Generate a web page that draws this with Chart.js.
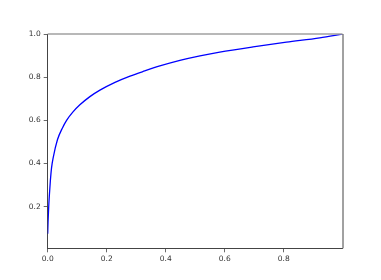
<!DOCTYPE html>
<html>
<head>
<meta charset="utf-8">
<script src="https://cdn.jsdelivr.net/npm/chart.js@4"></script>
<style>
  html, body { margin: 0; padding: 0; background: #fff; }
  canvas { display: block; }
</style>
</head>
<body>
<canvas id="chartCanvas" width="381" height="280"></canvas>
<script>
// values
const xValues = [0, 0.0012, 0.0034, 0.0055, 0.009, 0.013, 0.019, 0.033, 0.05, 0.064, 0.085, 0.109, 0.143, 0.177, 0.228, 0.279, 0.329, 0.380, 0.448, 0.516, 0.583, 0.696, 0.809, 0.922, 0.999];
const yValues = [0.075, 0.13, 0.2, 0.25, 0.32, 0.38, 0.43, 0.51, 0.565, 0.6, 0.638, 0.672, 0.71, 0.74, 0.776, 0.805, 0.829, 0.852, 0.878, 0.899, 0.916, 0.940, 0.962, 0.982, 1.0];
const xTicks = [0, 0.2, 0.4, 0.6, 0.8];
const yTicks = [0.2, 0.4, 0.6, 0.8, 1.0];

const points = xValues.map((x, i) => ({ x: x, y: yValues[i] }));

// top and right spines
const frame = {
  id: "frame",
  afterDatasetsDraw(chart) {
    const { ctx, chartArea: a } = chart;
    ctx.save();
    ctx.strokeStyle = "#a0a0a0";
    ctx.lineWidth = 1.5;
    ctx.beginPath();
    ctx.moveTo(a.left, a.top);
    ctx.lineTo(a.right, a.top);
    ctx.stroke();
    ctx.strokeStyle = "#444";
    ctx.lineWidth = 1;
    ctx.beginPath();
    ctx.moveTo(a.right + 0.5, a.top);
    ctx.lineTo(a.right + 0.5, a.bottom);
    ctx.stroke();
    ctx.restore();
  }
};

const tickFont = { family: "DejaVu Sans", size: 7.5 };

new Chart(document.getElementById("chartCanvas").getContext("2d"), {
  type: "line",
  data: {
    datasets: [{
      data: points,
      borderColor: "#0000ff",
      borderWidth: 1.3,
      pointRadius: 0,
      fill: false,
      cubicInterpolationMode: "monotone"
    }]
  },
  options: {
    responsive: false,
    animation: false,
    layout: { padding: { top: 34, right: 38.5, left: 0, bottom: 0 } },
    plugins: { legend: { display: false }, tooltip: { enabled: false } },
    scales: {
      x: {
        type: "linear",
        min: 0,
        max: 0.999,
        afterFit: (s) => { s.height = 31.7; },
        afterBuildTicks: (s) => { s.ticks = xTicks.map(v => ({ value: v })); },
        grid: { drawOnChartArea: false, drawTicks: true, tickLength: 4, tickColor: "#444", lineWidth: 0.8 },
        border: { display: true, color: "#444", width: 1 },
        ticks: { font: tickFont, color: "#333", padding: 2, maxRotation: 0, callback: v => v.toFixed(1) }
      },
      y: {
        type: "linear",
        min: 0.0074,
        max: 1.0,
        afterFit: (s) => { s.width = 47.7; },
        afterBuildTicks: (s) => { s.ticks = yTicks.map(v => ({ value: v })); },
        grid: { drawOnChartArea: false, drawTicks: true, tickLength: 4, tickColor: "#444", lineWidth: 0.8 },
        border: { display: true, color: "#444", width: 1 },
        ticks: { font: tickFont, color: "#333", padding: 3, callback: v => v.toFixed(1) }
      }
    }
  },
  plugins: [frame]
});
</script>
</body>
</html>
